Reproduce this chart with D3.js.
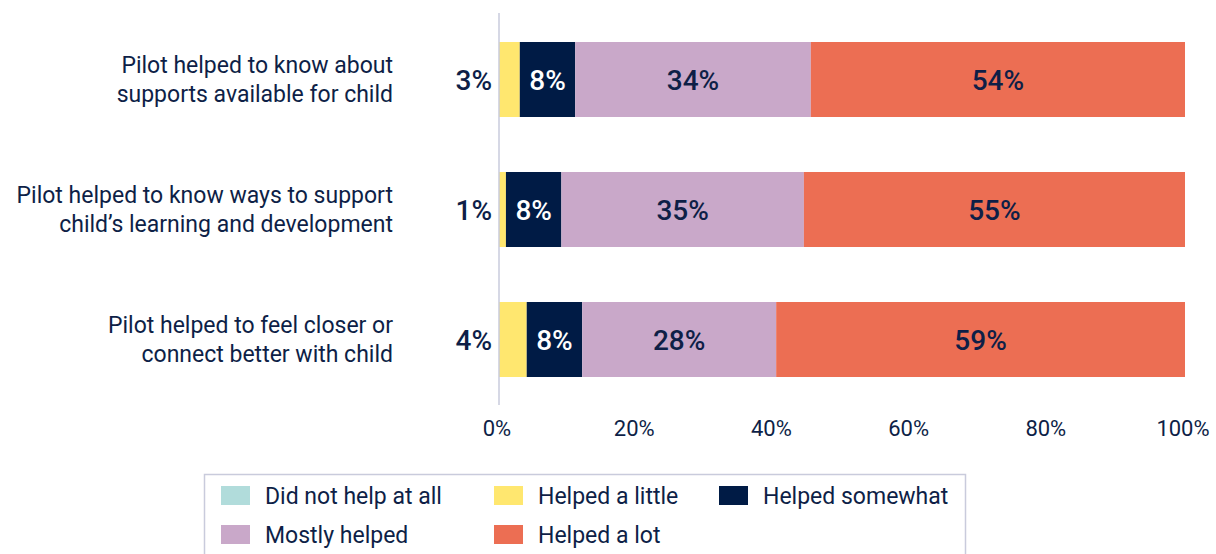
<!DOCTYPE html>
<html lang="en">

<head>
  <meta charset="UTF-8">
  <script src="https://cdn.jsdelivr.net/npm/d3@7"></script>
  <title>Pilot helped</title>
  <style>
    body {
      margin: 0;
      background: #fff;
    }

    text {
      font-family: Roboto, "Noto Sans", sans-serif;
      fill: #0e1f47;
    }
  </style>
</head>

<body>

  <script>
    // categories (two-line labels) and the response levels
    const categories = [
      ["Pilot helped to know about", "supports available for child"],
      ["Pilot helped to know ways to support", "child\u2019s learning and development"],
      ["Pilot helped to feel closer or", "connect better with child"]
    ];
    const seriesNames = ["Did not help at all", "Helped a little", "Helped somewhat", "Mostly helped", "Helped a lot"];
    const seriesColors = ["#b1dcdb", "#ffe76f", "#001b45", "#c9a8c9", "#ec6e53"];

    // percentages per series, one value per category
    const notAtAll = [0, 0, 0];
    const aLittle = [3, 1, 4];
    const somewhat = [8, 8, 8];
    const mostly = [34, 35, 28];
    const aLot = [54, 55, 59];

    const tickValues = [0, 0.2, 0.4, 0.6, 0.8, 1];

    const rows = categories.map((c, i) => ({
      idx: i,
      "Did not help at all": notAtAll[i],
      "Helped a little": aLittle[i],
      "Helped somewhat": somewhat[i],
      "Mostly helped": mostly[i],
      "Helped a lot": aLot[i]
    }));

    const width = 1216, height = 554;
    const svg = d3.select('body').append('svg')
      .attr('width', width)
      .attr('height', height);

    const x = d3.scaleLinear().domain([0, 1]).range([499, 1185]);
    // step 130, bar 75
    const y = d3.scaleBand().domain(d3.range(categories.length)).range([42, 377])
      .paddingInner(55 / 130).paddingOuter(0);
    const color = d3.scaleOrdinal().domain(seriesNames).range(seriesColors);

    const stack = d3.stack().keys(seriesNames).offset(d3.stackOffsetExpand);
    const layers = stack(rows);

    // bars
    const layer = svg.selectAll('g.layer').data(layers).enter().append('g')
      .attr('class', 'layer')
      .attr('fill', d => color(d.key));
    layer.selectAll('rect').data(d => d).enter().append('rect')
      .attr('x', d => x(d[0]))
      .attr('y', d => y(d.data.idx))
      .attr('width', d => x(d[1]) - x(d[0]))
      .attr('height', y.bandwidth());

    // axis line at 0
    svg.append('line')
      .attr('x1', x(0)).attr('x2', x(0))
      .attr('y1', 13).attr('y2', 405)
      .attr('stroke', '#c9cbdc').attr('stroke-width', 1.5);

    // value labels
    layers.forEach(L => {
      L.forEach(d => {
        const v = d.data[L.key];
        if (!v) return;
        const cy = y(d.data.idx) + y.bandwidth() / 2;
        const t = svg.append('text')
          .attr('y', cy)
          .attr('dy', '0.36em')
          .style('font-size', '28px')
          .style('font-weight', 500)
          .text(v + '%');
        if (L.key === "Helped a little") {
          t.attr('x', x(0) - 7).attr('text-anchor', 'end');
        } else {
          t.attr('x', (x(d[0]) + x(d[1])) / 2).attr('text-anchor', 'middle')
            .style('fill', L.key === "Helped somewhat" ? '#fff' : '#0e1f47');
        }
      });
    });

    // category labels
    categories.forEach((lines, i) => {
      const cy = y(i) + y.bandwidth() / 2;
      const t = svg.append('text')
        .attr('text-anchor', 'end')
        .style('font-size', '23px');
      lines.forEach((ln, j) => {
        t.append('tspan')
          .attr('x', 393)
          .attr('y', cy + (j - 0.5) * 29 - 0.5)
          .attr('dy', '0.36em')
          .text(ln);
      });
    });

    // x tick labels
    svg.selectAll('text.tick').data(tickValues).enter().append('text')
      .attr('class', 'tick')
      .attr('x', d => x(d) - 2)
      .attr('y', 436)
      .attr('text-anchor', 'middle')
      .style('font-size', '22px')
      .text(d3.format('.0%'));

    // legend
    svg.append('rect')
      .attr('x', 204.5).attr('y', 474.5)
      .attr('width', 761).attr('height', 90)
      .attr('fill', 'none')
      .attr('stroke', '#c9cbdc').attr('stroke-width', 1.5);

    const legendPos = [[221, 486], [494, 486], [719, 486], [221, 525], [494, 525]];
    const lg = svg.selectAll('g.legend').data(seriesNames).enter().append('g')
      .attr('class', 'legend')
      .attr('transform', (d, i) => `translate(${legendPos[i][0]},${legendPos[i][1]})`);
    lg.append('rect')
      .attr('width', 29).attr('height', 19)
      .attr('fill', d => color(d));
    lg.append('text')
      .attr('x', 44)
      .attr('y', 10)
      .attr('dy', '0.36em')
      .style('font-size', '23px')
      .text(d => d);
  </script>
</body>

</html>
